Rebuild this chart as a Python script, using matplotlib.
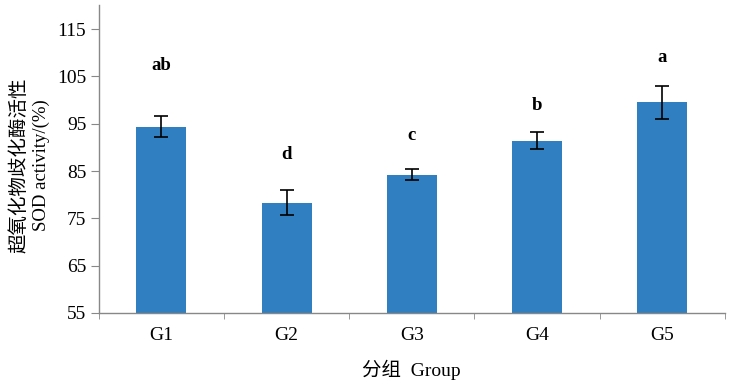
import numpy as np
import matplotlib.pyplot as plt

groups = ["G1", "G2", "G3", "G4", "G5"]
sod = [94.4, 78.3, 84.2, 91.4, 99.5]
sod_err = [2.2, 2.7, 1.2, 1.8, 3.4]
letters = ["ab", "d", "c", "b", "a"]
letter_y = [107.2, 88.4, 92.6, 98.8, 109.1]

plt.rcParams['font.family'] = ['Liberation Serif', 'Noto Sans CJK SC']

fig = plt.figure(figsize=(7.32, 3.83), dpi=100)
ax = fig.add_axes([0.135, 0.183, 0.855, 0.804])

x = np.arange(len(groups))
ax.bar(x, sod, width=0.4, color='#2f7fc1', zorder=2)
ax.errorbar(x, sod, yerr=sod_err, fmt='none', ecolor='black',
            elinewidth=1.2, capsize=5, capthick=1.2, zorder=3)

for xi, lab, yi in zip(x, letters, letter_y):
    ax.text(xi, yi, lab, ha='center', va='center', fontsize=13.5,
            fontweight='bold')

ax.set_xlim(-0.5, 4.5)
ax.set_ylim(55, 120.1)
ax.set_yticks(np.arange(55, 116, 10))
ax.set_xticks(x)
ax.set_xticklabels(groups)
ax.set_xticks(np.arange(-0.5, 5, 1), minor=True)
ax.tick_params(axis='x', which='major', length=0, pad=10, labelsize=14)
ax.tick_params(axis='x', which='minor', length=4, color='#888888', direction='out')
ax.tick_params(axis='y', length=6, color='#888888', labelsize=14, pad=3)

for s in ['top', 'right']:
    ax.spines[s].set_visible(False)
for s in ['left', 'bottom']:
    ax.spines[s].set_color('#888888')
    ax.spines[s].set_linewidth(1.0)

fig.text(0.026, 0.569, "超氧化物歧化酶活性", rotation=90, ha='center', va='center',
         fontsize=14, family=['Noto Sans CJK SC'])
fig.text(0.056, 0.569, "SOD activity/(%)", rotation=90, ha='center', va='center',
         fontsize=13.5)
fig.text(0.562, 0.034, "分组  Group", ha='center', va='center', fontsize=14)

fig.savefig("out.png", dpi=100)
